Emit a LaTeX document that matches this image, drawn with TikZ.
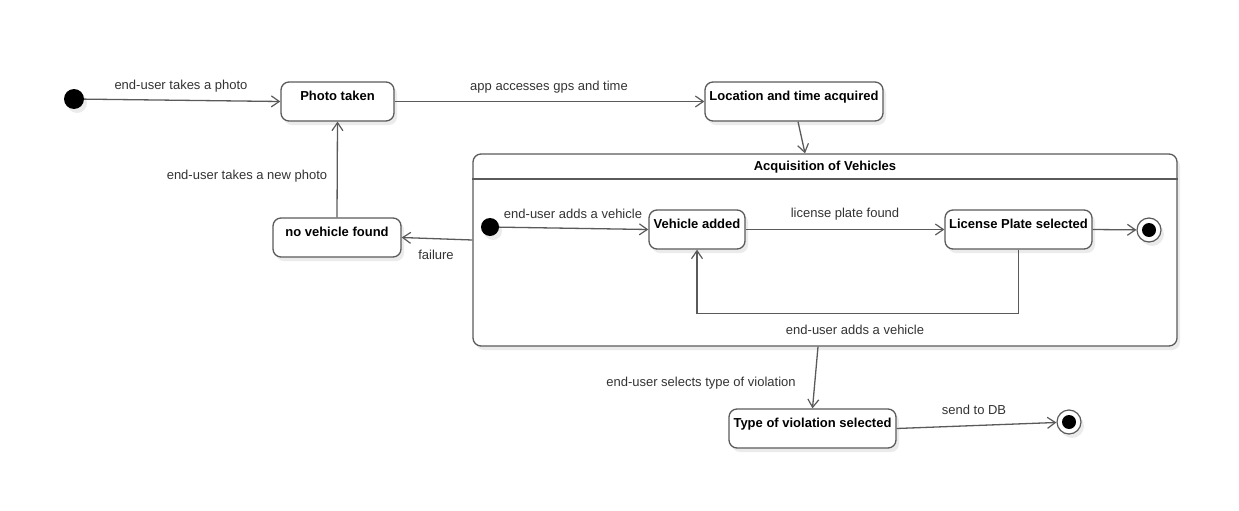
\documentclass[tikz,border=0pt]{standalone}
\usepackage{fontspec}
\setmainfont{Liberation Sans}
\usetikzlibrary{arrows.meta,shadows}
\definecolor{edgec}{HTML}{5A5A5A}
\definecolor{textc}{HTML}{333333}
\tikzset{
  shadowed/.style={drop shadow={shadow xshift=3pt,shadow yshift=-4pt,fill=black,opacity=0.08}},
  statebox/.style={draw=edgec,line width=1.3pt,rounded corners=8pt,fill=white,shadowed,
    inner xsep=0pt,inner ysep=0pt,minimum height=39pt,text height=18pt,text depth=21pt,
    font=\fontsize{13}{15.6}\selectfont\bfseries,text=black},
  lab/.style={font=\fontsize{13}{15.6}\selectfont,text=textc,inner sep=0pt},
  tr/.style={draw=edgec,line width=1.3pt,-{Straight Barb[length=8pt,width=11pt,line width=1.2pt]}},
  initst/.style={circle,fill=black,inner sep=0pt,minimum size=20pt,shadowed},
  finalst/.style={circle,draw=edgec,line width=1.2pt,fill=white,inner sep=0pt,minimum size=24pt,shadowed,
    path picture={\fill[black] (path picture bounding box.center) circle (7pt);}},
}
\begin{document}
\begin{tikzpicture}[x=1pt,y=-1pt]
\useasboundingbox (0,0) rectangle (1239,511);
% composite state
\node[draw=edgec,line width=1.3pt,rounded corners=8pt,fill=white,shadowed,minimum width=704pt,minimum height=192pt,inner sep=0pt] (acq) at (825,250) {};
\draw[edgec,line width=1.3pt] (acq.west |- 0,179) -- (acq.east |- 0,179);
\node[font=\fontsize{13}{15.6}\selectfont\bfseries,inner sep=0pt] (acqt) at (825,167.5) {Acquisition of Vehicles};
% states
\node[initst] (init) at (74,99) {};
\node[statebox,minimum width=113pt] (photo) at (337.5,101.5) {Photo taken};
\node[statebox,minimum width=178pt] (loc) at (794,101.5) {Location and time acquired};
\node[statebox,minimum width=128pt] (nvf) at (337,237.5) {no vehicle found};
\node[initst,minimum size=18pt] (ii) at (490,227) {};
\node[statebox,minimum width=96pt] (va) at (697,229.5) {Vehicle added};
\node[statebox,minimum width=147pt] (lps) at (1018.5,229.5) {License Plate selected};
\node[finalst] (fin1) at (1149,230) {};
\node[statebox,minimum width=167pt] (tvs) at (812.5,428.5) {Type of violation selected};
\node[finalst] (fin2) at (1069,422) {};
% transitions
\draw[tr] (init) -- (photo.west);
\draw[tr] (photo.east) -- (loc.west);
\draw[tr] ([xshift=4pt]loc.south) -- ([xshift=-20pt]acq.north);
\draw[tr] (nvf.north) -- (photo.south);
\draw[tr] ([yshift=10pt]acq.west) -- (nvf.east);
\draw[tr] (ii) -- (va.west);
\draw[tr] (va.east) -- (lps.west);
\draw[tr] (lps.east) -- (fin1);
\draw[tr] (lps.south) -- ++(0,64) -| (va.south);
\draw[tr] ([xshift=-7pt]acq.south) -- (tvs.north);
\draw[tr] (tvs.east) -- (fin2);
% labels
\node[lab] (l1) at (181,86.5) {end-user takes a photo};
\node[lab] (l2) at (549,87.5) {app accesses gps and time};
\node[lab] (l3) at (247,176.5) {end-user takes a new photo};
\node[lab] (l4) at (436,254.5) {failure};
\node[lab] (l5) at (573,213.5) {end-user adds a vehicle};
\node[lab] (l6) at (845,214.5) {license plate found};
\node[lab] (l7) at (855,329.5) {end-user adds a vehicle};
\node[lab] (l8) at (701,383.5) {end-user selects type of violation};
\node[lab] (l9) at (974,409.5) {send to DB};
\end{tikzpicture}
\end{document}
